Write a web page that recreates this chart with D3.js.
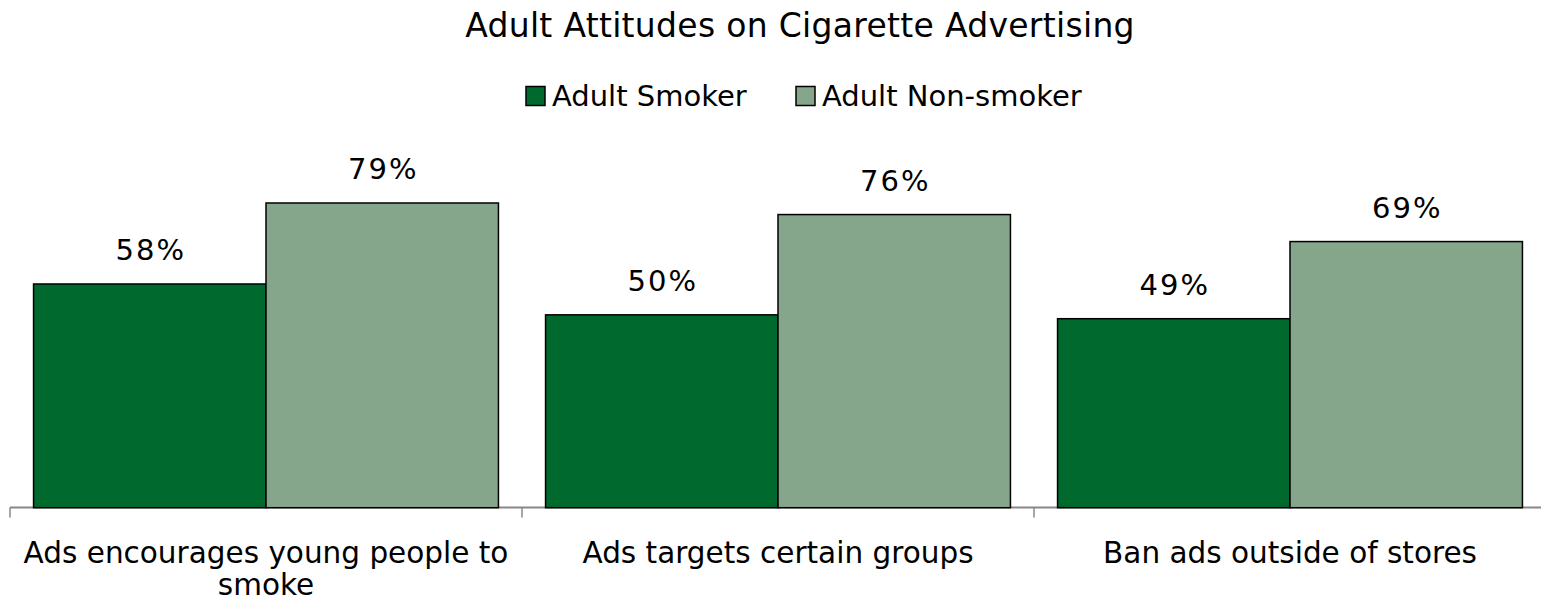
<!DOCTYPE html>
<html><head><meta charset="utf-8">
<script src="https://cdn.jsdelivr.net/npm/d3@7"></script>
<style>body{margin:0;background:#fff}svg{display:block}text{font-family:"DejaVu Sans",sans-serif;fill:#000}</style>
</head><body>
<script>
const categories = ["Ads encourages young people to smoke", "Ads targets certain groups", "Ban ads outside of stores"];
const seriesNames = ["Adult Smoker", "Adult Non-smoker"];
const smoker = [0.58, 0.50, 0.49];
const nonSmoker = [0.79, 0.76, 0.69];
const colors = ["#006A2E", "#86A68B"];

const W = 1541, H = 602;
const svg = d3.select("body").append("svg").attr("width", W).attr("height", H);

const x0 = d3.scaleBand().domain(categories).range([10, 1546]).paddingInner(0.092).paddingOuter(0.046);
const x1 = d3.scaleBand().domain(seriesNames).range([0, x0.bandwidth()]);
const y = d3.scaleLinear().domain([0, 1]).range([507.7, 122]);

const data = categories.map((c, i) => ({cat: c, vals: [smoker[i], nonSmoker[i]]}));

// title
svg.append("text").attr("x", 800).attr("y", 37).attr("text-anchor", "middle")
  .style("font-size", "33px").style("letter-spacing", "0.3px").text("Adult Attitudes on Cigarette Advertising");

// legend
const legendItems = [{name: seriesNames[0], x: 525}, {name: seriesNames[1], x: 795}];
legendItems.forEach((d, i) => {
  svg.append("rect").attr("x", d.x + 1).attr("y", 86.5).attr("width", 19).attr("height", 19)
    .attr("fill", colors[i]).attr("stroke", "#000").attr("stroke-width", 1.5);
  svg.append("text").attr("x", d.x + 27).attr("y", 105.5).style("font-size", "29px").text(d.name);
});

// axis
const axisG = svg.append("g").attr("transform", "translate(0,507.5)");
axisG.append("line").attr("x1", 10).attr("x2", 1546).attr("y1", 0).attr("y2", 0)
  .attr("stroke", "#888").attr("stroke-width", 2);
const tickXs = [10].concat(categories.map(c => x0(c) + x0.bandwidth() + x0.step() * x0.paddingInner() / 2));
axisG.selectAll("line.tk").data(tickXs).enter().append("line").attr("class", "tk")
  .attr("x1", d => d).attr("x2", d => d).attr("y1", 0).attr("y2", 10)
  .attr("stroke", "#888").attr("stroke-width", 1.5);

// bars
const g = svg.selectAll("g.grp").data(data).enter().append("g").attr("class", "grp")
  .attr("transform", d => `translate(${x0(d.cat)},0)`);
g.selectAll("rect").data(d => d.vals.map((v, i) => ({v, s: seriesNames[i], i})))
  .enter().append("rect")
  .attr("x", d => x1(d.s)).attr("width", x1.bandwidth())
  .attr("y", d => y(d.v)).attr("height", d => y(0) - y(d.v))
  .attr("fill", d => colors[d.i]).attr("stroke", "#000").attr("stroke-width", 1.5);
g.selectAll("text.val").data(d => d.vals.map((v, i) => ({v, s: seriesNames[i]})))
  .enter().append("text").attr("class", "val")
  .attr("x", d => x1(d.s) + x1.bandwidth() / 2 + 1).attr("y", d => y(d.v) - 24)
  .attr("text-anchor", "middle").style("font-size", "29px").style("letter-spacing", "2px")
  .text(d => d3.format(".0%")(d.v));

// category labels (wrapped)
const catLines = {"Ads encourages young people to smoke": ["Ads encourages young people to", "smoke"]};
categories.forEach(c => {
  const lines = catLines[c] || [c];
  const t = svg.append("text").attr("text-anchor", "middle").style("font-size", "29.5px");
  lines.forEach((l, j) => t.append("tspan").attr("x", x0(c) + x0.bandwidth() / 2).attr("y", 563 + j * 32).text(l));
});
</script>
</body></html>
